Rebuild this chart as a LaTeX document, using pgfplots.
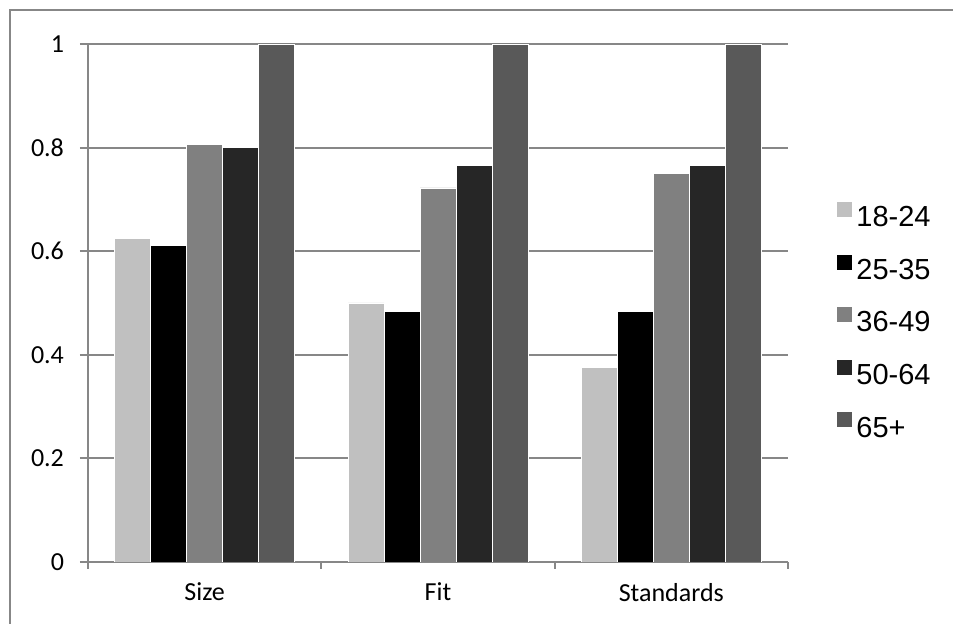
\documentclass[border=0pt]{standalone}
\usepackage{pgfplots}
\pgfplotsset{compat=1.18}
\usepackage{fontspec}
\setmainfont{Carlito}
\newfontfamily\arial{Liberation Sans}
\definecolor{c1}{HTML}{C0C0C0}
\definecolor{c2}{HTML}{000000}
\definecolor{c3}{HTML}{808080}
\definecolor{c4}{HTML}{262626}
\definecolor{c5}{HTML}{595959}
\definecolor{gridc}{HTML}{878787}
\begin{document}
\begin{tikzpicture}
\useasboundingbox (0,0) rectangle (476.5pt,312pt);
\draw[gridc, line width=1pt] (5pt,0) -- (5pt,307pt) -- (476.5pt,307pt);
\begin{axis}[
  at={(44pt,31pt)}, anchor=south west,
  scale only axis, width=350pt, height=259pt,
  xmin=-0.5, xmax=2.5, ymin=0, ymax=1,
  ybar=0pt, bar width=18pt,
  axis lines*=left,
  axis line style={gridc, line width=1pt},
  ymajorgrids, grid style={gridc, line width=1pt},
  tick align=outside, major tick length=4pt,
  tick style={gridc, line width=1pt},
  ytick={0,0.2,0.4,0.6,0.8,1},
  /pgf/number format/assume math mode=true,
  yticklabel style={font=\fontsize{13}{15}\selectfont, text=black, xshift=-4.5pt},
  xtick={0,1,2}, xticklabels={Size,Fit,Standards},
  xticklabel style={font=\fontsize{13}{15}\selectfont, text=black, yshift=-3pt},
  xtick style={draw=none},
  extra x ticks={-0.5,0.5,1.5,2.5}, extra x tick labels={},
  extra x tick style={xtick style={draw=gridc, line width=1pt}, major tick length=3.5pt},
  legend style={at={(1,0.5)}, anchor=west, xshift=24.5pt, yshift=-10pt,
    draw=none, fill=none, font=\arial\fontsize{14.5}{17}\selectfont,
    row sep=10.5pt, inner sep=0pt, cells={anchor=west}},
  legend image code/.code={\fill[#1, draw=none] (0pt,0.5pt) rectangle (7.5pt,8pt);},
]
\addplot[fill=c1, draw=white, line width=0.4pt] coordinates {(0,0.625) (1,0.5) (2,0.375)};
\addplot[fill=c2, draw=white, line width=0.4pt] coordinates {(0,0.611) (1,0.484) (2,0.484)};
\addplot[fill=c3, draw=white, line width=0.4pt] coordinates {(0,0.806) (1,0.722) (2,0.75)};
\addplot[fill=c4, draw=white, line width=0.4pt] coordinates {(0,0.8) (1,0.765) (2,0.765)};
\addplot[fill=c5, draw=white, line width=0.4pt] coordinates {(0,1) (1,1) (2,1)};
\legend{18-24,25-35,36-49,50-64,65+}
\end{axis}
\end{tikzpicture}
\end{document}
